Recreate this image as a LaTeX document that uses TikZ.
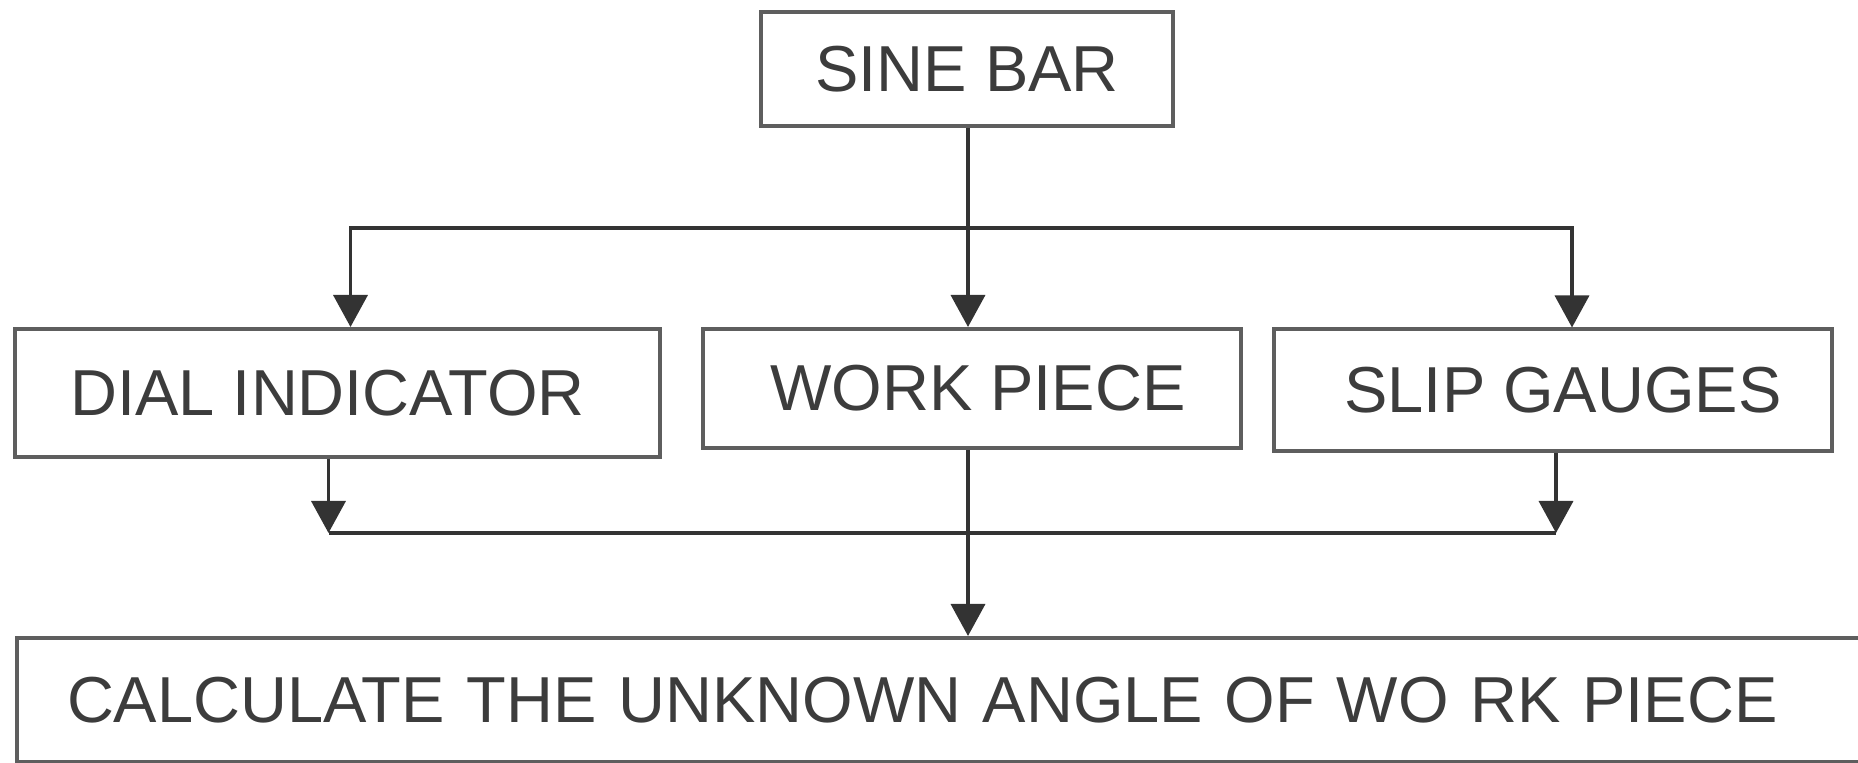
\documentclass[tikz,border=0pt]{standalone}
\usepackage{fontspec}
\setmainfont{Liberation Sans}
\usetikzlibrary{arrows.meta}
\definecolor{boxc}{HTML}{5E5E5E}
\definecolor{linec}{HTML}{333333}
\definecolor{txtc}{HTML}{3C3C3C}
\begin{document}
\begin{tikzpicture}[x=0.5pt,y=-0.5pt,
  box/.style={draw=boxc,line width=2pt,rectangle,inner sep=0pt,text=txtc,
    font=\fontsize{32.5pt}{36pt}\selectfont},
  conn/.style={draw=linec,line width=1.8pt},
  arr/.style={conn,-{Triangle[width=17pt,length=16pt]}}]
\useasboundingbox (0,0) rectangle (1858,763);
\clip (0,0) rectangle (1858,763);
\fill[white] (0,0) rectangle (1858,763);
\node[box,minimum width=206pt,minimum height=57pt] (sine) at (967,69) {SINE BAR};
\node[box,minimum width=322.5pt,minimum height=64pt] (dial) at (337.5,393) {DIAL INDICATOR\hspace*{10pt}};
\node[box,minimum width=269pt,minimum height=59.5pt] (work) at (972,388.5) {\hspace*{6pt}WORK PIECE};
\node[box,minimum width=279pt,minimum height=61pt] (slip) at (1553,390.5) {\hspace*{10pt}SLIP GAUGES};
\node[box,anchor=north west,text width=892.5pt,inner xsep=25pt,minimum height=62pt,align=left] (calc) at (15,636) {CALCULATE THE UNKNOWN ANGLE OF WO RK PIECE};
\coordinate (bus) at (968,228);
\coordinate (sink) at (968,533);
\draw[conn] (bus |- sine.south) -- (bus);
\draw[arr] (bus) -- (bus |- work.north);
\draw[arr] (bus) -| ([xshift=6.5pt]dial.north);
\draw[arr] (bus) -| ([xshift=9.5pt]slip.north);
\draw[arr] ([xshift=-4.5pt]dial.south) -- ([xshift=-4.5pt]dial.south |- sink);
\draw[arr] ([xshift=1.5pt]slip.south) -- ([xshift=1.5pt]slip.south |- sink);
\draw[conn] ([xshift=-4.5pt]dial.south |- sink) -- ([xshift=1.5pt]slip.south |- sink);
\draw[arr] (bus |- work.south) -- (bus |- calc.north);
\end{tikzpicture}
\end{document}
